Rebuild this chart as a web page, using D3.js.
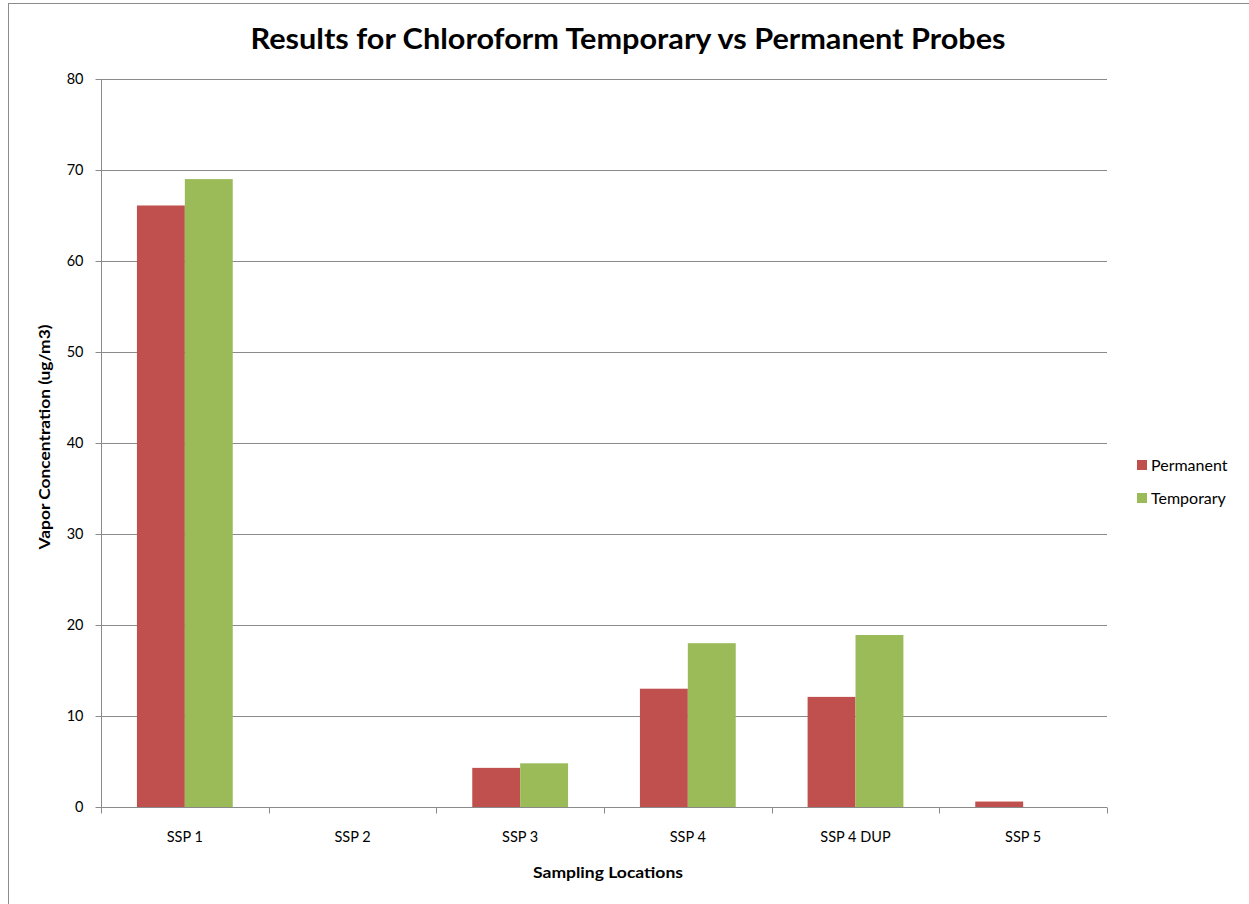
<!DOCTYPE html>
<html><head><meta charset="utf-8">
<script src="https://cdn.jsdelivr.net/npm/d3@7/dist/d3.min.js"></script>
<style>body{margin:0;background:#fff;}svg{display:block;}</style>
</head><body>
<svg id="chart" width="1249" height="904"></svg>
<script>
const categories = ["SSP 1","SSP 2","SSP 3","SSP 4","SSP 4 DUP","SSP 5"];
const seriesNames = ["Permanent","Temporary"];
const permanent = [66.1, 0, 4.3, 13.0, 12.1, 0.6];
const temporary = [69.0, 0, 4.8, 18.0, 18.9, 0];
const yTicks = [0,10,20,30,40,50,60,70,80];
const colors = ["#C0504D","#9BBB59"];

const svg = d3.select("#chart");
const font = "Lato, 'Open Sans', sans-serif";
const L = 101, R = 1107, T = 79, B = 807;

svg.append("rect").attr("x",8.5).attr("y",3.5).attr("width",1300).attr("height",1000)
  .attr("fill","#fff").attr("stroke","#8c8c8c").attr("stroke-width",1);

const x = d3.scaleBand().domain(categories).range([L,R]).paddingInner(0).paddingOuter(0);
const x1 = d3.scaleBand().domain(seriesNames).range([0,x.bandwidth()]).paddingInner(0).paddingOuter(0.75);
const y = d3.scaleLinear().domain([0,80]).range([B,T]);

// gridlines
svg.append("g").selectAll("line").data(yTicks.filter(d=>d>0)).join("line")
  .attr("x1",L).attr("x2",R).attr("y1",d=>Math.round(y(d))+0.5).attr("y2",d=>Math.round(y(d))+0.5)
  .attr("stroke","#8a8a8a").attr("stroke-width",1);

// bars
const data = categories.map((c,i)=>({c, vals:[permanent[i],temporary[i]]}));
const g = svg.append("g");
data.forEach(d=>{
  d.vals.forEach((v,j)=>{
    g.append("rect").attr("x",x(d.c)+x1(seriesNames[j])).attr("width",x1.bandwidth())
     .attr("y",y(v)).attr("height",B-y(v)).attr("fill",colors[j]);
  });
});

// y axis
const yAxis = d3.axisLeft(y).tickValues(yTicks).tickSize(6).tickPadding(12);
const gy = svg.append("g").attr("transform",`translate(${L+0.5},0)`).call(yAxis);
gy.selectAll("text").attr("font-family",font).attr("font-size",14.5).attr("fill","#000");
gy.selectAll("line,path").attr("stroke","#8a8a8a");
gy.select(".domain").attr("d",`M0,${T}V${B}`);
gy.selectAll(".tick").attr("transform",d=>`translate(0,${Math.round(y(d))+0.5})`);

// x axis
const xAxis = d3.axisBottom(x).tickSize(0).tickPadding(24);
const gx = svg.append("g").attr("transform",`translate(0,${B+0.5})`).call(xAxis);
gx.selectAll("text").attr("font-family",font).attr("font-size",14.5).attr("fill","#000");
gx.select(".domain").attr("stroke","#8a8a8a").attr("d",`M${L},0H${R}`);
const bounds = categories.map(c=>x(c)).concat([R]);
gx.selectAll(".bt").data(bounds).join("line").attr("class","bt")
  .attr("x1",d=>Math.round(d)+0.5).attr("x2",d=>Math.round(d)+0.5).attr("y1",0).attr("y2",6)
  .attr("stroke","#8a8a8a");

// title
svg.append("text").attr("x",628).attr("y",49).attr("text-anchor","middle")
  .attr("font-family",font).attr("font-weight","bold").attr("font-size",29)
  .attr("textLength",755).attr("lengthAdjust","spacingAndGlyphs")
  .text("Results for Chloroform Temporary vs Permanent Probes");

// axis titles
svg.append("text").attr("x",608).attr("y",878).attr("text-anchor","middle")
  .attr("font-family",font).attr("font-weight","bold").attr("font-size",16)
  .attr("textLength",150).attr("lengthAdjust","spacingAndGlyphs")
  .text("Sampling Locations");
svg.append("text").attr("transform","translate(50,437) rotate(-90)").attr("text-anchor","middle")
  .attr("font-family",font).attr("font-weight","bold").attr("font-size",16)
  .attr("textLength",225).attr("lengthAdjust","spacingAndGlyphs")
  .text("Vapor Concentration (ug/m3)");

// legend
const lg = svg.append("g");
seriesNames.forEach((s,i)=>{
  lg.append("rect").attr("x",1137).attr("y",460+i*33).attr("width",10).attr("height",10).attr("fill",colors[i]);
  lg.append("text").attr("x",1151).attr("y",471+i*33).attr("font-family",font).attr("font-size",16)
    .attr("fill","#000").text(s);
});
</script>
</body></html>
